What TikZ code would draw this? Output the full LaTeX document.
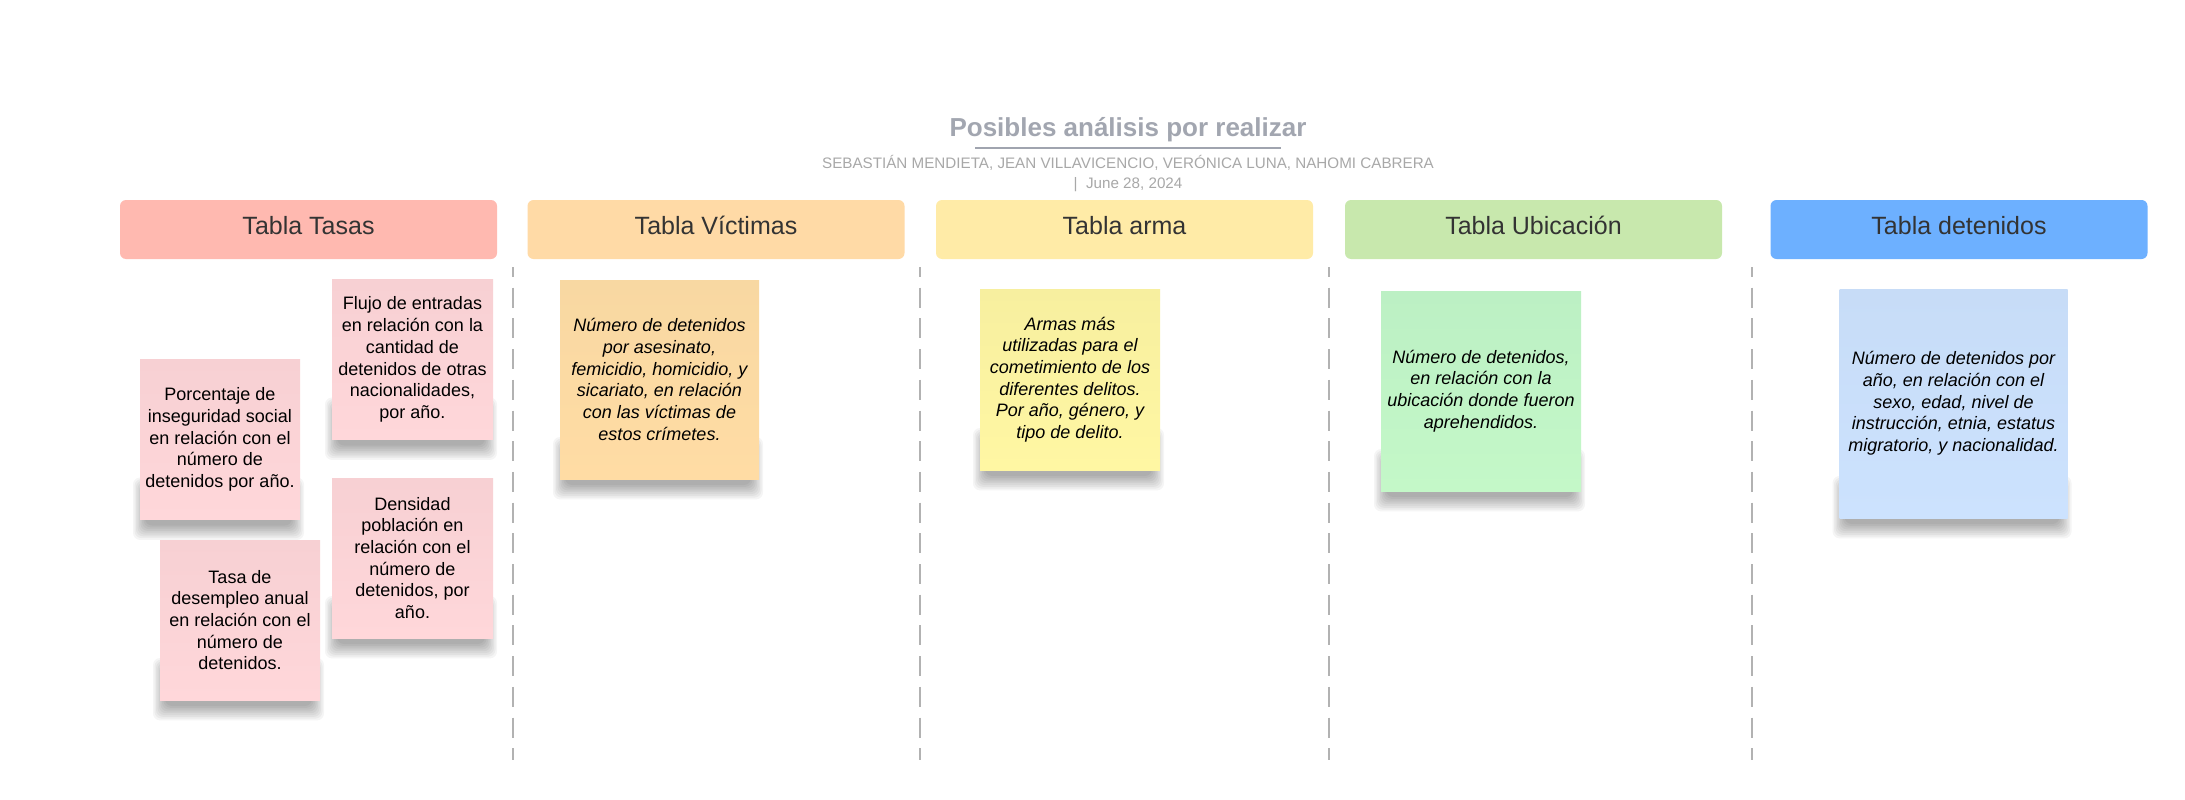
\documentclass[tikz,border=0pt]{standalone}
\usepackage{fontspec}
\setmainfont{Liberation Sans}

\definecolor{titlegray}{HTML}{A2A6B0}
\definecolor{rulegray}{HTML}{A0A4AF}
\definecolor{subgray}{HTML}{A8A8A8}
\definecolor{hdrtext}{HTML}{333333}
\definecolor{sepgray}{HTML}{B2B2B2}
% column header fills
\definecolor{hdrTasas}{HTML}{FFB9B0}
\definecolor{hdrVictimas}{HTML}{FFDAA6}
\definecolor{hdrArma}{HTML}{FFEBA7}
\definecolor{hdrUbic}{HTML}{C8E8AD}
\definecolor{hdrDet}{HTML}{6DB0FF}
% sticky note fills (top / bottom)
\definecolor{pinkTop}{HTML}{F7D0D3}
\definecolor{pinkBot}{HTML}{FFD7DA}
\definecolor{orangeTop}{HTML}{F8D8A2}
\definecolor{orangeBot}{HTML}{FFDCA4}
\definecolor{yellowTop}{HTML}{F7EF9F}
\definecolor{yellowBot}{HTML}{FFF7A3}
\definecolor{greenTop}{HTML}{BCF0C4}
\definecolor{greenBot}{HTML}{C4F8C8}
\definecolor{blueTop}{HTML}{C7DCF7}
\definecolor{blueBot}{HTML}{CCE2FE}

% sticky note: name, centre x, centre y, width, height, colour prefix, font shape, text
\newcommand\stickynote[8]{%
  \foreach \k in {0,...,8}{%
    \fill[black, opacity=0.04, rounded corners=7pt]
      ({#2-#4/2+5-\k*1.5}, {#3+#5/2-30-\k*1.5}) rectangle
      ({#2+#4/2-8+\k*1.5}, {#3+#5/2+6+\k*1.8});
  }
  \node[note, top color=#6Top, bottom color=#6Bot, minimum width=#4pt,
        minimum height=#5pt, font=\fontsize{18}{21.7}\selectfont#7]
    (#1) at (#2,#3) {#8};
}

\begin{document}
\begin{tikzpicture}[x=1pt, y=-1pt,
  header/.style={rounded corners=6pt, minimum width=377pt, minimum height=59pt,
    inner sep=0pt, text height=18pt, text depth=8pt, text=hdrtext,
    font=\fontsize{25}{30}\selectfont},
  note/.style={inner sep=0pt, align=center, text=black},
  separator/.style={sepgray, line width=2pt, dash pattern=on 20pt off 10.7pt, dash phase=10pt}
]
\useasboundingbox (0,0) rectangle (2185,800);
\fill[white] (0,0) rectangle (2185,800);

% title block
\node[text=titlegray, font=\fontsize{26}{31}\selectfont\bfseries, inner sep=0pt]
  (title) at (1128,130) {Posibles análisis por realizar};
\coordinate (ruleL) at (975,147.5);
\coordinate (ruleR) at (1281,147.5);
\draw[rulegray, line width=2pt] (ruleL) -- (ruleR);
\node[text=subgray, font=\fontsize{15.2}{18}\selectfont, inner sep=0pt]
  (authors) at (1128,163) {SEBASTIÁN MENDIETA, JEAN VILLAVICENCIO, VERÓNICA LUNA, NAHOMI CABRERA};
\node[text=subgray, font=\fontsize{15.2}{18}\selectfont, inner sep=0pt]
  (date) at (1128,185) {|\ \ June 28, 2024};

% column headers
\node[header, fill=hdrTasas]    (hTasas)    at (308.5,229.5) {Tabla Tasas};
\node[header, fill=hdrVictimas] (hVictimas) at (716,229.5)   {Tabla Víctimas};
\node[header, fill=hdrArma]     (hArma)     at (1124.5,229.5){Tabla arma};
\node[header, fill=hdrUbic]     (hUbic)     at (1533.5,229.5){Tabla Ubicación};
\node[header, fill=hdrDet]      (hDet)      at (1959,229.5)  {Tabla detenidos};

% column separators
\foreach \sx in {513,920,1329,1752}{
  \draw[separator] (\sx,267) -- (\sx,760);
}

% Tabla Tasas notes
\stickynote{nFlujo}{412.5}{359.5}{161}{160}{pink}{}{Flujo de entradas\\en relación con la\\cantidad de\\detenidos de otras\\nacionalidades,\\por año.}
\stickynote{nPorc}{220}{439.5}{160}{160}{pink}{}{Porcentaje de\\inseguridad social\\en relación con el\\número de\\detenidos por año.}
\stickynote{nDens}{412.5}{558}{161}{160}{pink}{}{Densidad\\población en\\relación con el\\número de\\detenidos, por\\año.}
\stickynote{nTasa}{240}{620}{160}{160}{pink}{}{Tasa de\\desempleo anual\\en relación con el\\número de\\detenidos.}

% remaining columns
\stickynote{nVict}{659.5}{379.5}{199}{199}{orange}{\itshape}{Número de detenidos\\por asesinato,\\femicidio, homicidio, y\\sicariato, en relación\\con las víctimas de\\estos crímetes.}
\stickynote{nArma}{1070}{379.5}{180}{181}{yellow}{\itshape}{Armas más\\utilizadas para el\\cometimiento de los\\diferentes delitos.\\Por año, género, y\\tipo de delito.}
\stickynote{nUbic}{1481}{391}{200}{200}{green}{\itshape}{Número de detenidos,\\en relación con la\\ubicación donde fueron\\aprehendidos.}
\stickynote{nDet}{1953.5}{403.5}{228}{229}{blue}{\itshape}{Número de detenidos por\\año, en relación con el\\sexo, edad, nivel de\\instrucción, etnia, estatus\\migratorio, y nacionalidad.}
\end{tikzpicture}
\end{document}
